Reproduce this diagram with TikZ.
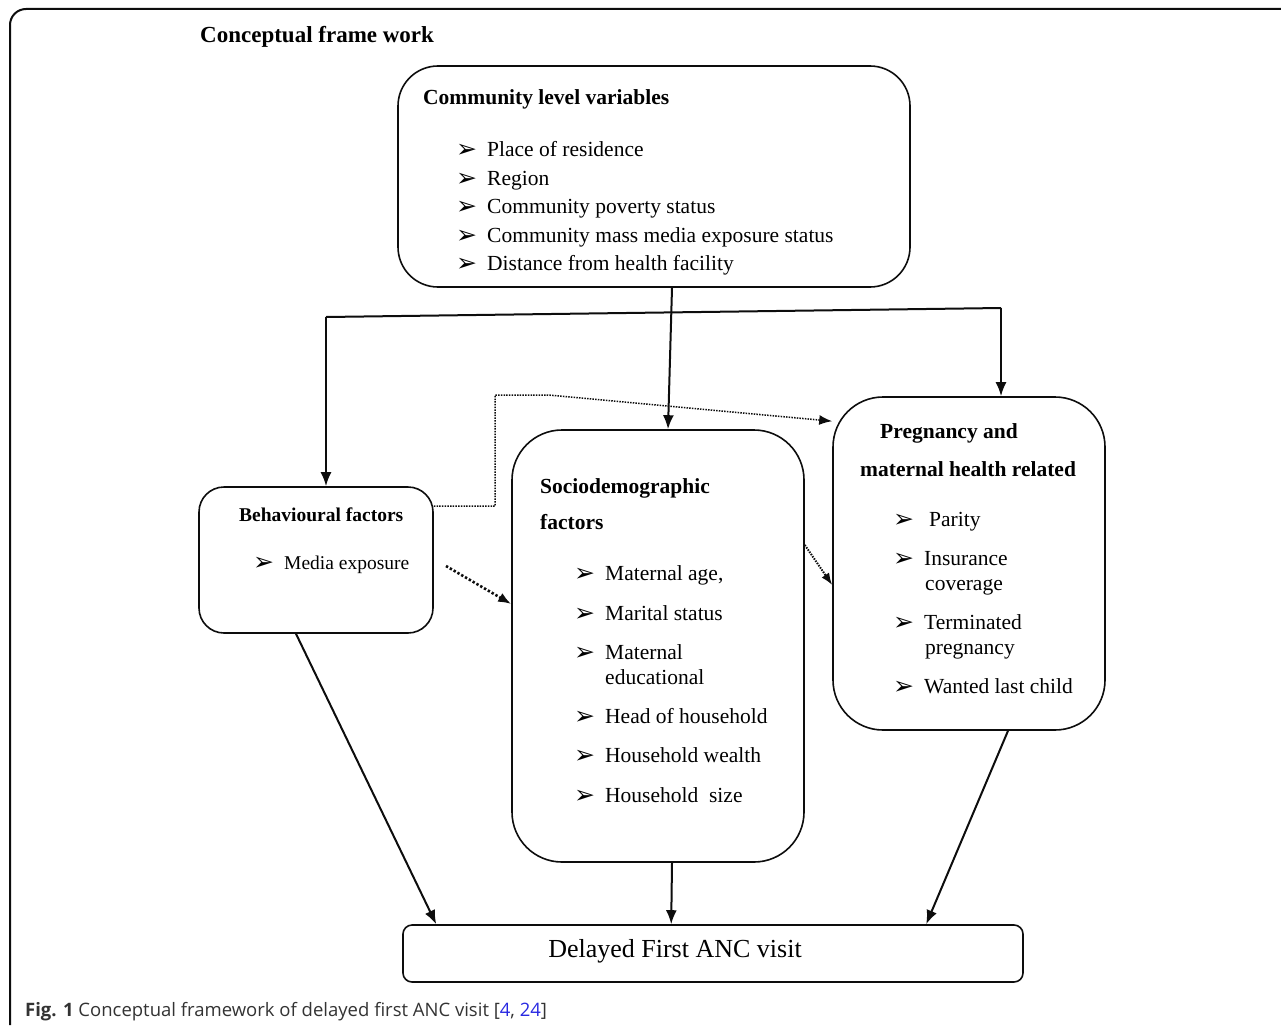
\documentclass[tikz,border=0pt]{standalone}
\usepackage{fontspec}
\setmainfont{Liberation Serif}
\newfontfamily\capfont{Open Sans}
\newfontfamily\symfont{DejaVu Sans}
\usepackage{tikz}
\usetikzlibrary{arrows.meta}
\usepackage{xcolor}
\definecolor{RichBlack}{gray}{0.05}
\definecolor{CapGray}{gray}{0.2}
\definecolor{RefBlue}{RGB}{40,40,225}
\newcommand{\bul}{\makebox[31pt][l]{\symfont\fontsize{25}{25}\selectfont\raisebox{-1pt}{➢}}}
\tikzset{%
  factor_box/.style={%
    draw=RichBlack,%
    rectangle,%
    line width=1.6pt,%
    inner sep=0pt,%
  },
  box_title/.style={%
    anchor=base west,%
    inner sep=0pt,%
    font={\fontsize{21.5}{25}\selectfont\bfseries},%
  },
  box_item/.style={%
    anchor=base west,%
    inner sep=0pt,%
    font={\fontsize{21.5}{25}\selectfont},%
  },
  smooth_path/.style={%
    color=RichBlack,%
    line join=round,%
    line width=2pt,%
  },
  dotted_path/.style={%
    color=RichBlack,%
    line width=1.5pt,%
    dash pattern=on 1.5pt off 1.2pt,%
  },
  heavy_dotted_path/.style={%
    color=RichBlack,%
    line width=2.6pt,%
    dash pattern=on 2.4pt off 2pt,%
  },
  arrow/.style={-{Latex[length=14pt, width=11pt]}},
}
\begin{document}
\begin{tikzpicture}[x=1pt, y=-1pt]

    \useasboundingbox (0,0) rectangle (1281,1025);
    \draw [line width=2pt, color=RichBlack, rounded corners=16pt]
      (10,1025) -- (10,9) -- (1281,9);

    \node [box_title, font={\fontsize{23}{26}\selectfont\bfseries}] (Heading) at (200,43) {Conceptual frame work};

    % boxes
    \node [factor_box, rounded corners=40pt, minimum width=512pt, minimum height=221pt] (Community) at (654,176.5) {};
    \node [factor_box, rounded corners=25pt, minimum width=234pt, minimum height=146pt] (Behaviour) at (316,560) {};
    \node [factor_box, rounded corners=50pt, minimum width=292pt, minimum height=432pt] (Socio) at (658,646) {};
    \node [factor_box, rounded corners=50pt, minimum width=272pt, minimum height=333pt] (Pregnancy) at (969,563.5) {};
    \node [factor_box, rounded corners=9pt, minimum width=620pt, minimum height=57pt] (Delayed) at (713,953.5) {};

    % community level
    \node [box_title] (ComTitle) at (423,104) {Community level variables};
    \node [box_item] (Com1) at (456,156) {\bul Place of residence};
    \node [box_item] (Com2) at (456,185) {\bul Region};
    \node [box_item] (Com3) at (456,213) {\bul Community poverty status};
    \node [box_item] (Com4) at (456,242) {\bul Community mass media exposure status};
    \node [box_item] (Com5) at (456,270) {\bul Distance from health facility};

    % behavioural
    \node [box_title, font={\fontsize{19.5}{24}\selectfont\bfseries}] (BehTitle) at (239,521) {Behavioural factors};
    \node [box_item, font={\fontsize{19.5}{24}\selectfont}] (Beh1) at (253,569) {\bul Media exposure};

    % sociodemographic
    \node [box_title] (SocTitle) at (540,493) {Sociodemographic};
    \node [box_title] (SocTitleB) at (540,529) {factors};
    \node [box_item] (Soc1) at (574,580) {\bul Maternal age,};
    \node [box_item] (Soc2) at (574,620) {\bul Marital status};
    \node [box_item] (Soc3) at (574,659) {\bul Maternal};
    \node [box_item] (Soc3b) at (605,684) {educational};
    \node [box_item] (Soc4) at (574,723) {\bul Head of household};
    \node [box_item] (Soc5) at (574,762) {\bul Household wealth};
    \node [box_item] (Soc6) at (574,802) {\bul Household\ \ size};

    % pregnancy and maternal health
    \node [box_title] (PrgTitle) at (880,438) {Pregnancy and};
    \node [box_title] (PrgTitleB) at (860,476) {maternal health related};
    \node [box_item] (Prg1) at (893,526) {\bul\hspace{5pt}Parity};
    \node [box_item] (Prg2) at (893,565) {\bul Insurance};
    \node [box_item] (Prg2b) at (925,590) {coverage};
    \node [box_item] (Prg3) at (893,629) {\bul Terminated};
    \node [box_item] (Prg3b) at (925,654) {pregnancy};
    \node [box_item] (Prg4) at (893,693) {\bul Wanted last child};

    % outcome
    \node [inner sep=0pt, font={\fontsize{26}{30}\selectfont}] (DelayedText) at (675,951) {Delayed First ANC visit};

    \node [anchor=base west, inner sep=0pt, text=CapGray, font={\capfont\fontsize{18.5}{22}\selectfont}] (Caption) at (25,1016)
      {\textbf{Fig. 1} Conceptual framework of delayed first ANC visit [{\color{RefBlue}4}, {\color{RefBlue}24}]};

    % solid links
    \coordinate (SplitL) at (326,317);
    \coordinate (SplitR) at (1001,308);
    \draw [arrow, smooth_path]
      ([xshift=18pt]Community.south) -- ([xshift=10pt]Socio.north);
    \draw [smooth_path] (SplitL) -- (SplitR);
    \draw [arrow, smooth_path] (SplitL) -- (Behaviour.north -| SplitL);
    \draw [arrow, smooth_path] (SplitR) -- (Pregnancy.north -| SplitR);
    \draw [arrow, smooth_path]
      ([xshift=-20pt]Behaviour.south) -- ([xshift=34pt]Delayed.north west);
    \draw [arrow, smooth_path]
      ([xshift=14pt]Socio.south) -- ([xshift=269pt]Delayed.north west);
    \draw [arrow, smooth_path]
      ([xshift=39pt]Pregnancy.south) -- ([xshift=524pt]Delayed.north west);

    % dotted links
    \coordinate (DotUp) at (495,395);
    \coordinate (DotBend) at (548,395);
    \coordinate (DotStart) at (446,566);
    \draw [dotted_path, -{Latex[length=13pt, width=10pt]}]
      ([yshift=-20pt]Behaviour.north east) -| (DotUp) -- (DotBend)
      -- ([yshift=-25pt]Pregnancy.north west);
    \draw [heavy_dotted_path, -{Latex[length=13pt, width=10pt]}]
      (DotStart) -- ([yshift=42pt]Socio.west);
    \draw [dotted_path, line width=2pt, -{Latex[length=12pt, width=9pt]}]
      ([yshift=101pt]Socio.east) -- ([yshift=-21.5pt]Pregnancy.west);
  \end{tikzpicture}
\end{document}
